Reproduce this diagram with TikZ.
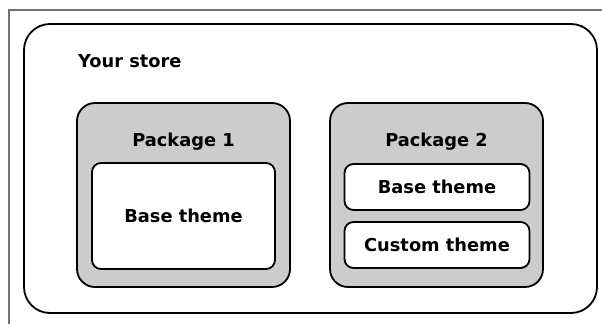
\documentclass[tikz,border=0pt]{standalone}
\usepackage{fontspec}
\setmainfont{DejaVu Sans}
\tikzset{
	scatola/.style={draw=black, line width=1.8pt, rounded corners=#1},
	pacchetto/.style={scatola=18pt, fill=black!20, minimum width=213pt, minimum height=184pt},
	tema/.style={scatola=9pt, fill=white, minimum width=185pt, inner sep=0pt},
	testo/.style={font=\fontsize{17.8}{20}\selectfont\bfseries, inner sep=0pt}
}
\begin{document}
\begin{tikzpicture}[x=1pt, y=-1pt]
		\useasboundingbox (0,0) rectangle (602,324);
		% cornice
		\draw[color=black!55, line width=1.5pt] (9,324) -- (9,10) -- (602,10);
		% negozio
		\node[scatola=26pt, minimum width=573pt, minimum height=289pt] (store) at (310.5,168.5) {};
		\node[testo, anchor=west] (storeLabel) at (78,61) {Your store};
		% primo pacchetto
		\node[pacchetto] (pkgA) at (183.5,195) {};
		\node[testo] (pkgALabel) at (183.5,142) {Package 1};
		\node[tema, minimum width=183pt, minimum height=106pt] (baseA) at (183.5,216) {};
		\node[testo] (baseALabel) at (baseA) {Base theme};
		% secondo pacchetto
		\node[pacchetto] (pkgB) at (436.5,195) {};
		\node[testo] (pkgBLabel) at (436.5,142) {Package 2};
		\node[tema, minimum height=46pt] (baseB) at (437,187) {};
		\node[testo] (baseBLabel) at (baseB) {Base theme};
		\node[tema, minimum height=46pt] (custom) at (437,245) {};
		\node[testo] (customLabel) at (custom) {Custom theme};
	\end{tikzpicture}
\end{document}
